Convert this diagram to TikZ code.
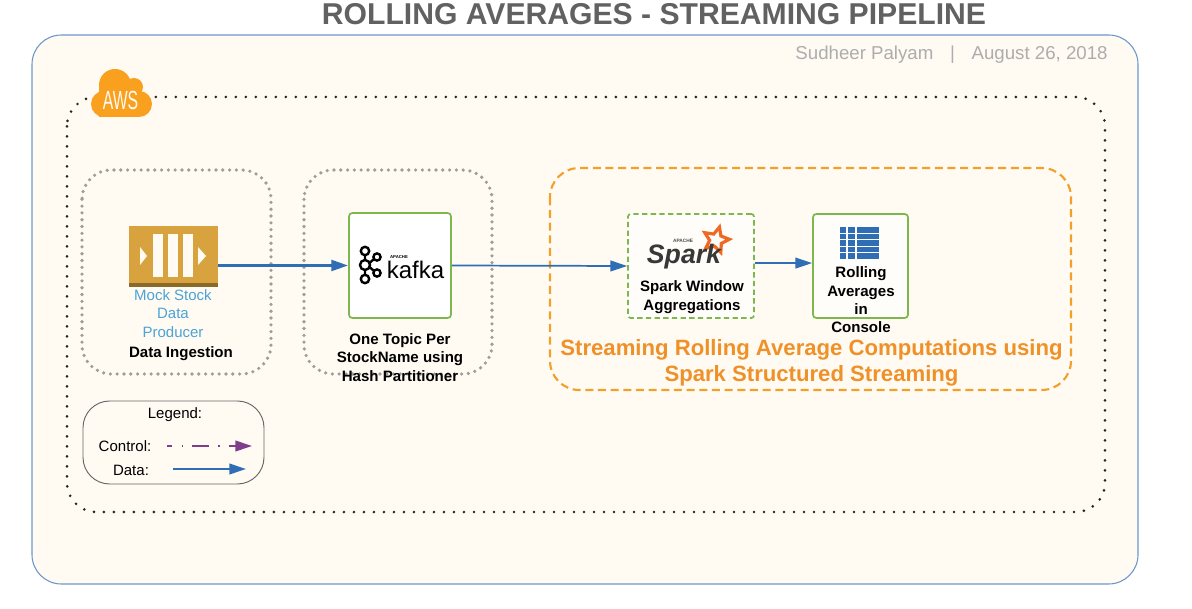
\documentclass[tikz,border=0pt]{standalone}
\usepackage{fontspec}
\setmainfont{Liberation Sans}
\usetikzlibrary{arrows.meta, shapes.geometric}
\definecolor{creamfill}{HTML}{FFFBF3}
\definecolor{outerblue}{HTML}{6C97C9}
\definecolor{flowblue}{HTML}{2F6DB5}
\definecolor{mockblue}{HTML}{4BA3D6}
\definecolor{legendpurple}{HTML}{7D3F8C}
\definecolor{boxgreen}{HTML}{7DB84F}
\definecolor{groupgray}{HTML}{A09C96}
\definecolor{groupamber}{HTML}{F3A02A}
\definecolor{titleorange}{HTML}{EF9128}
\definecolor{awsorange}{HTML}{F9A01E}
\definecolor{sparkorange}{HTML}{EE6A24}
\definecolor{producergold}{HTML}{D8A33F}
\definecolor{producerdark}{HTML}{8A6A2A}
\tikzset{
  flow/.style={draw=flowblue, line width=1.3pt, -{Triangle[length=12.5pt,width=8pt]}},
  dotline/.style={line cap=round, dash pattern=on 0pt off 5.1pt},
  label/.style={font=\fontsize{11.25}{13}\selectfont, inner sep=0pt, text height=9.7pt, text depth=0.7pt},
  boldlabel/.style={label, font=\fontsize{11.3}{13}\selectfont\bfseries},
  bluelabel/.style={label, text=mockblue},
  orangelabel/.style={inner sep=0pt, text=titleorange, text height=14.3pt, text depth=1pt, font=\fontsize{16.6}{19}\selectfont\bfseries},
  greenbox/.style={draw=boxgreen, line width=1.3pt, rounded corners=2.5pt, inner sep=0pt},
  groupbox/.style={rounded corners=22pt, inner sep=0pt}
}
\begin{document}
\begin{tikzpicture}[x=0.75pt, y=-0.75pt]
\useasboundingbox (0,0) rectangle (1192,609);
\fill[white] (0,0) rectangle (1192,609);
% frames
\draw[outerblue, fill=creamfill, line width=0.8pt, rounded corners=22pt] (32,35) rectangle (1138,584);
\draw[black!85, dotline, dash pattern=on 0pt off 7.5pt, line width=2.2pt, rounded corners=22pt] (67,97) rectangle (1105,512);
\draw[groupgray, dotline, line width=2.7pt, rounded corners=22pt] (82,170) rectangle (271,374);
\draw[groupgray, dotline, line width=2.7pt, rounded corners=22pt] (304,170) rectangle (492,374);
\draw[groupamber, line width=1.6pt, dash pattern=on 6pt off 3.5pt, rounded corners=22pt] (550,168) rectangle (1071,390);
% title
\node (title) at (654,14) [text=black!62, font=\fontsize{22.6}{26}\selectfont\bfseries] {ROLLING AVERAGES - STREAMING PIPELINE};
\node (byline) at (951.5,55) [text=black!32, font=\fontsize{14}{16}\selectfont] {Sudheer Palyam\hspace{12.5pt}|\hspace{12.5pt}August 26, 2018};
% aws cloud
\fill[awsorange] (104,104) circle (13);
\fill[awsorange] (115,85) circle (16);
\fill[awsorange] (134,87) circle (9);
\fill[awsorange] (139,104) circle (13);
\fill[awsorange] (99,85) rectangle (139,117);
\node (aws) at (120.5,100) [text=creamfill, inner sep=0pt, font=\fontsize{19.7}{20}\selectfont] {\scalebox{0.6}[1]{AWS}};
% producer
\node (producer) at (173.5,256.5) [fill=producergold, minimum width=66.75pt, minimum height=45.75pt, inner sep=0pt] {};
\fill[producerdark] (129,283) rectangle (218,287);
\foreach \x in {153,168,183}
  \fill[creamfill] (\x,234) rectangle (\x+10,277);
\fill[creamfill] (140,247) -- (147,256) -- (140,265) -- cycle;
\fill[creamfill] (198,247) -- (206,256) -- (198,265) -- cycle;
\node (mock1) at (173,295) [bluelabel] {Mock Stock};
\node (mock2) at (173,313) [bluelabel] {Data};
\node (mock3) at (173,332) [bluelabel] {Producer};
\node (ingest) at (181,352) [boldlabel] {Data Ingestion};
% kafka
\node (kafkabox) at (400,265.5) [greenbox, fill=white, minimum width=76.5pt, minimum height=78.75pt] {};
\draw[black, line width=1.8pt] (365,251) circle (4.2) (365,279) circle (4.2) (365,265) circle (5) (377,257) circle (3.6) (377,273) circle (3.6);
\draw[black, line width=1.8pt] (365,255) -- (365,260) (365,270) -- (365,275) (369.5,263) -- (374,259) (369.5,267) -- (374,271);
\node (kafkaword) at (415.5,270) [inner sep=0pt, font=\fontsize{18}{19}\selectfont] {kafka};
\node (apache1) at (399,257) [inner sep=0pt, font=\fontsize{3.2}{4}\selectfont\bfseries] {APACHE};
\node (topic1) at (400,339) [boldlabel] {One Topic Per};
\node (topic2) at (400,357) [boldlabel] {StockName using};
\node (topic3) at (400,376) [boldlabel] {Hash Partitioner};
% spark
\node (sparkbox) at (691,266) [draw=boxgreen, fill=creamfill!50!white, line width=1.3pt, dash pattern=on 4pt off 2.5pt, rounded corners=2pt, inner sep=0pt, minimum width=94.5pt, minimum height=78pt] {};
\node (sparkstar) at (716,240) [star, star points=5, star point ratio=2.1, draw=sparkorange, line width=2.4pt, minimum size=20pt, inner sep=0pt, rotate=-15] {};
\node (sparkword) at (684,257) [inner sep=0pt, text=black!78, font=\fontsize{20}{21}\selectfont\bfseries\itshape] {Spark};
\node (apache2) at (683,241) [inner sep=0pt, text=black!70, font=\fontsize{3.6}{4}\selectfont\bfseries] {APACHE};
\node (window1) at (692,286) [boldlabel] {Spark Window};
\node (window2) at (692,305) [boldlabel] {Aggregations};
% rolling
\node (rollbox) at (860.5,266) [greenbox, fill=creamfill!50!white, minimum width=71.25pt, minimum height=78pt] {};
\foreach \y in {227,233.6,240.2,246.8,253.4}{
  \fill[flowblue] (840,\y) rectangle (846,\y+5.6);
  \fill[flowblue] (848,\y) rectangle (855,\y+5.6);
  \fill[flowblue] (857,\y) rectangle (879,\y+5.6);
}
\node (roll1) at (861,272) [boldlabel] {Rolling};
\node (roll2) at (861,291) [boldlabel] {Averages};
\node (roll3) at (861,309) [boldlabel] {in};
\node (roll4) at (861,327) [boldlabel] {Console};
\node (stream1) at (811.5,347) [orangelabel] {Streaming Rolling Average Computations using};
\node (stream2) at (811.5,373) [orangelabel] {Spark Structured Streaming};
% arrows
\draw[flow, line width=2.2pt] (kafkabox.west -| producer.east) -- (kafkabox.west);
\draw[flow] (kafkabox.east) -- (sparkbox.west);
\draw[flow] ([yshift=2.2pt]sparkbox.east) -- ([yshift=2.2pt]rollbox.west);
% legend
\node (legendbox) at (173.5,442.5) [draw=black!60, line width=0.7pt, rounded corners=20pt, minimum width=135.75pt, minimum height=62.25pt, inner sep=0pt] {};
\node (legendname) at (175,412) [label] {Legend:};
\node (controlname) at (125,445) [label] {Control:};
\node (dataname) at (131,469) [label] {Data:};
\coordinate (controlstart) at (167,446);
\coordinate (controlend) at (252,446);
\coordinate (datastart) at (173,469);
\coordinate (dataend) at (246,469);
\draw[legendpurple, line width=1.3pt, dash pattern=on 12.5pt off 7pt on 1pt off 7pt, dash phase=8.5pt, -{Triangle[length=12.5pt,width=8pt]}] (controlstart) -- (controlend);
\draw[flow] (datastart) -- (dataend);
\end{tikzpicture}
\end{document}
